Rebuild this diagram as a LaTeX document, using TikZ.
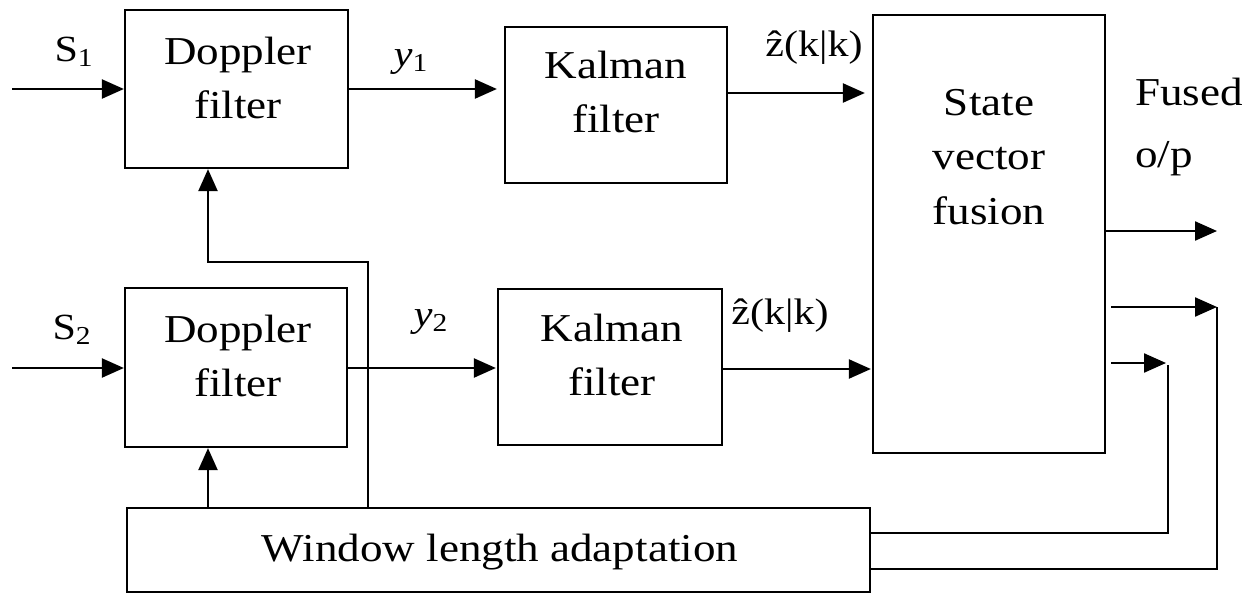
\documentclass[tikz,border=0pt]{standalone}
\usepackage{fontspec}
\setmainfont{Liberation Serif}[FakeStretch=1.14]
\usetikzlibrary{arrows.meta,calc}
\begin{document}
\begin{tikzpicture}[x=0.02cm,y=-0.02cm,
  box/.style={draw, line width=1.3pt, inner sep=0pt},
  txt/.style={align=center, inner sep=0pt, font=\fontsize{22.5}{31}\selectfont},
  lbl/.style={inner sep=0pt, font=\fontsize{21}{26}\selectfont},
  conn/.style={line width=1.3pt},
  arr/.style={conn, -{Triangle[length=0.44cm,width=0.38cm]}}]
\useasboundingbox (0,0) rectangle (1252,595);
% boxes
\node[box, minimum width=4.46cm, minimum height=3.16cm] (d1) at (236.5,89) {};
\node[box, minimum width=4.44cm, minimum height=3.18cm] (d2) at (236,367.5) {};
\node[box, minimum width=4.44cm, minimum height=3.12cm] (k1) at (616,105) {};
\node[box, minimum width=4.48cm, minimum height=3.12cm] (k2) at (610,367) {};
\node[box, minimum width=4.64cm, minimum height=8.76cm] (f) at (989,234) {};
\node[box, minimum width=14.86cm, minimum height=1.68cm] (w) at (498.5,550) {};
% box texts
\node[txt] (d1t) at (238,78) {Doppler\\filter};
\node[txt] (d2t) at (238,356) {Doppler\\filter};
\node[txt] (k1t) at (616,92) {Kalman\\filter};
\node[txt] (k2t) at (612,355) {Kalman\\filter};
\node[txt] (ft) at (989,157) {State\\vector\\fusion};
\node[txt] (wt) at (500,552) {Window length adaptation};
% labels
\node[lbl] (s1l) at (74,52) {S\textsubscript{1}};
\node[lbl] (s2l) at (72,330) {S\textsubscript{2}};
\node[lbl] (y1l) at (411,62) {\textit{y}\textsubscript{1}};
\node[lbl] (y2l) at (431,322) {\textit{y}\textsubscript{2}};
\node[lbl] (z1l) at (814,48) {\^{z}(k|k)};
\node[lbl] (z2l) at (780,316) {\^{z}(k|k)};
\node[txt, anchor=north west, align=left, font=\fontsize{22.5}{35}\selectfont] (fo) at (1135,78) {Fused\\o/p};
% free ends
\coordinate (s1in) at (12,89);
\coordinate (s2in) at (12,368);
\coordinate (o1) at (1217,231);
\coordinate (o2) at (1217,307);
\coordinate (o3) at (1168,363);
\coordinate (fbA) at (208,262);
\coordinate (fbB) at (368,262);
% connectors
\draw[arr] (s1in) -- (d1.west |- s1in);
\draw[arr] (s2in) -- (d2.west |- s2in);
\draw[arr] (d1.east |- s1in) -- ([xshift=-0.14cm]k1.west |- s1in);
\draw[arr] (d2.east |- s2in) -- ([xshift=-0.02cm]k2.west |- s2in);
\draw[arr] (k1.east |- 0,93) -- ([xshift=-0.14cm]f.west |- 0,93);
\draw[arr] (k2.east |- 0,369) -- ([xshift=-0.02cm]f.west |- 0,369);
\draw[arr] (f.east |- o1) -- (o1);
\draw[arr] ([xshift=0.1cm]f.east |- o2) -- (o2);
\draw[arr] ([xshift=0.1cm]f.east |- o3) -- ([xshift=-0.04cm]o3);
\draw[conn] (w.east |- 0,569) -| (o2);
\draw[conn] (w.east |- 0,533) -| ([yshift=-0.04cm]o3);
\draw[arr] (w.north -| fbA) -- (d2.south -| fbA);
\draw[arr] (w.north -| fbB) -- (fbB) -- (fbA) -- (d1.south -| fbA);
\end{tikzpicture}
\end{document}
